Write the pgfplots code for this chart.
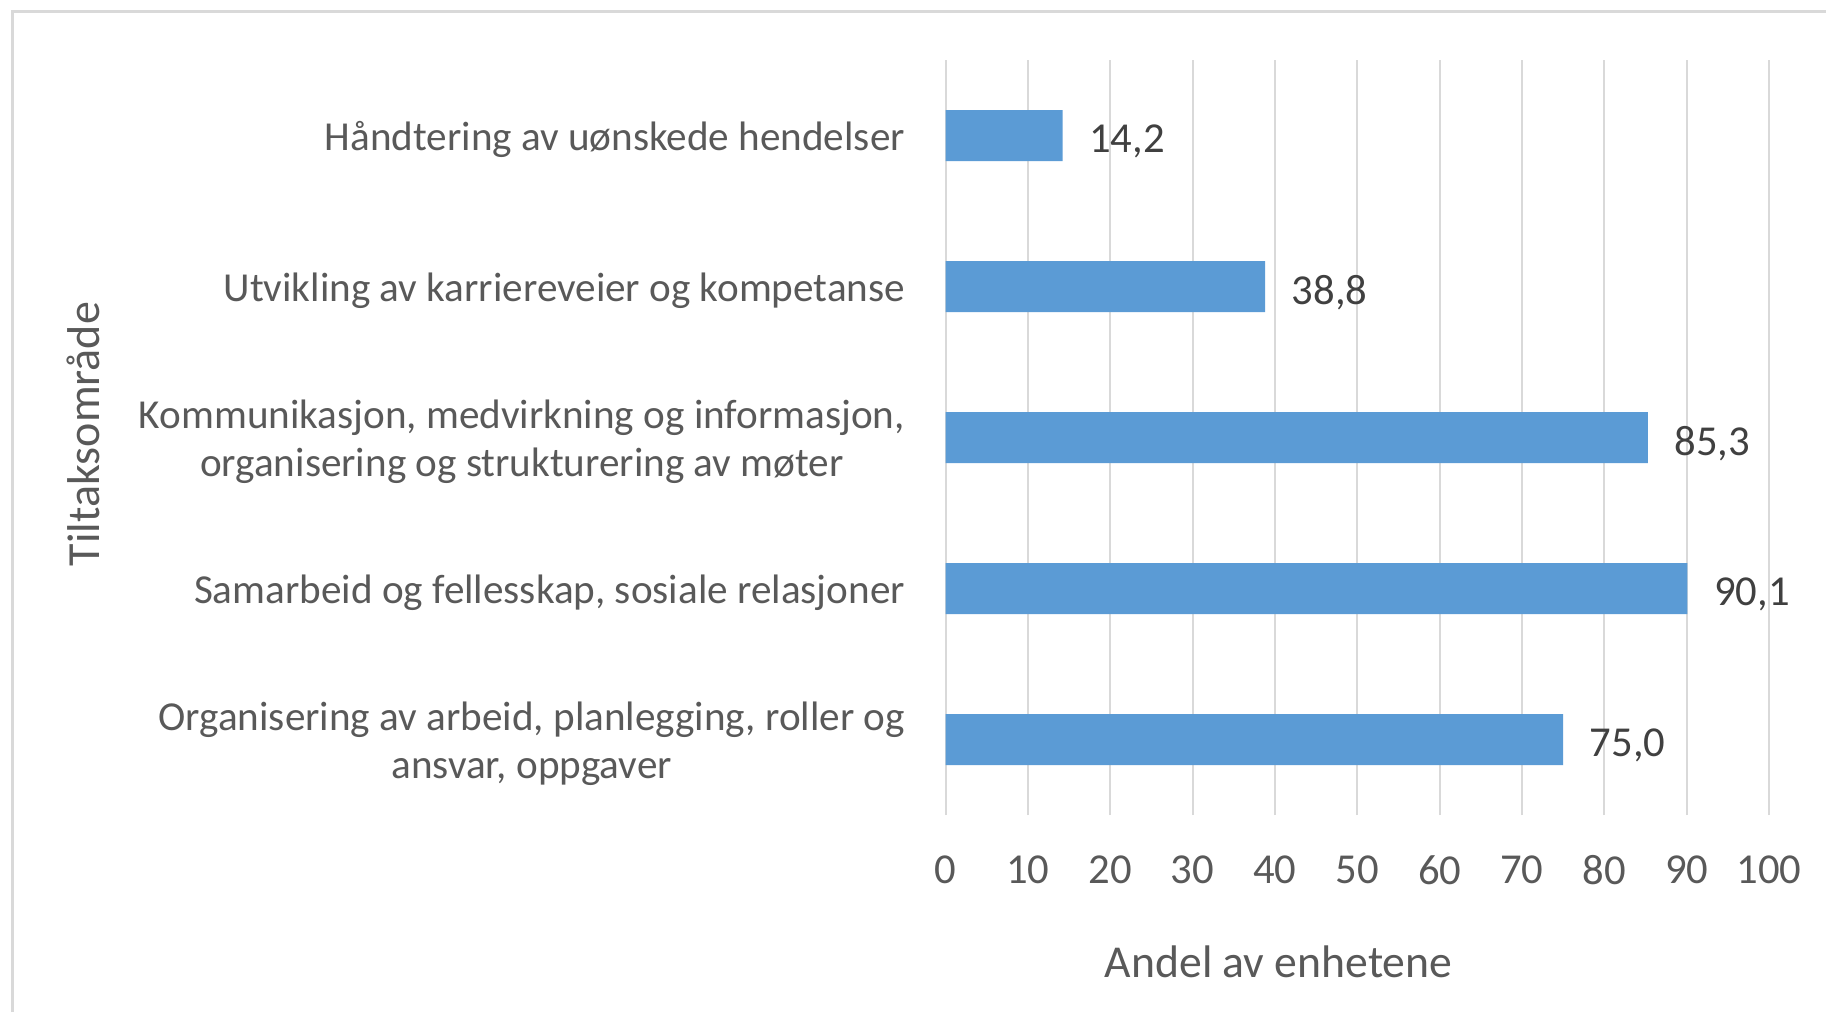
\documentclass[border=0pt]{standalone}
\usepackage{pgfplots}
\pgfplotsset{compat=1.18}
\usepackage{fontspec}
\setmainfont{Carlito}
\definecolor{barblue}{HTML}{5B9BD5}
\definecolor{gridgray}{HTML}{D9D9D9}
\definecolor{txtgray}{HTML}{595959}
\definecolor{lblgray}{HTML}{404040}
\begin{document}
\begin{tikzpicture}[x=0.3pt,y=0.3pt]
\path[use as bounding box] (0,0) rectangle (1826,1012);
\draw[gridgray, line width=0.9pt] (12,0) -- (12,1000) -- (1826,1000);
\begin{axis}[
  at={(283.68pt,59.1pt)}, anchor=south west,
  scale only axis, width=247.02pt, height=226.5pt,
  xmin=0, xmax=100, ymin=-0.5, ymax=4.5,
  xtick={0,10,...,100},
  ytick={0,1,2,3,4},
  yticklabels={{Organisering av arbeid, planlegging, roller og\\ansvar, oppgaver},
    {Samarbeid og fellesskap, sosiale relasjoner},
    {Kommunikasjon, medvirkning og informasjon,\\organisering og strukturering av møter},
    {Utvikling av karriereveier og kompetanse},
    {Håndtering av uønskede hendelser}},
  xmajorgrids, ymajorgrids=false,
  grid style={gridgray, line width=0.6pt},
  axis line style={draw=none},
  major tick length=0pt, tick style={draw=none},
  /pgf/number format/assume math mode=true,
  ticklabel style={text=txtgray},
  xticklabel style={font=\fontsize{12.8}{14.6}\selectfont, anchor=north, inner sep=0pt, yshift=-12pt},
  yticklabel style={font=\fontsize{12.35}{14.4}\selectfont, anchor=east, inner sep=0pt, xshift=-12pt, yshift=-1.3pt, align=center},
  xbar, bar width=15.3pt,
  nodes near coords,
  nodes near coords style={anchor=west, inner sep=0pt, xshift=7.8pt, yshift=-1.8pt,
    font=\fontsize{12.8}{14.6}\selectfont, text=lblgray,
    /pgf/number format/.cd, fixed, fixed zerofill, precision=1, use comma, assume math mode=true},
  clip=false,
]
\addplot[fill=barblue, draw=none] coordinates {(75.0,0) (90.1,1) (85.3,2) (38.8,3) (14.2,4)};
\end{axis}
\node[font=\fontsize{13.8}{15.6}\selectfont, text=txtgray, rotate=90] at (83.8,578) {Tiltaksområde};
\node[font=\fontsize{13.7}{15.6}\selectfont, text=txtgray] at (1278.6,50) {Andel av enhetene};
\end{tikzpicture}
\end{document}
